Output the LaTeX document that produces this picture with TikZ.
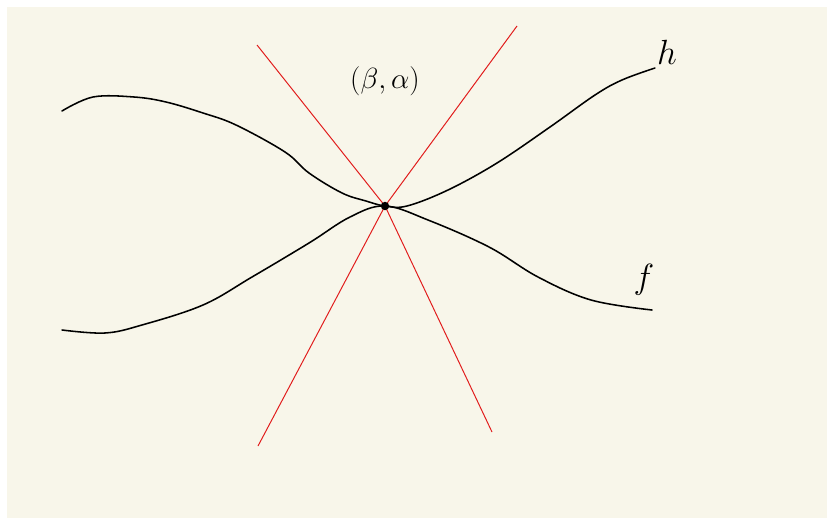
\documentclass[tikz,border=0pt]{standalone}
\usepackage{tikz}
\usetikzlibrary{positioning}
\definecolor{fondoCrema}{RGB}{248,246,234}
\definecolor{rojoVivo}{RGB}{225,28,28}

\begin{document}
\begin{tikzpicture}[x=0.025cm, y=-0.025cm, thick]
        % Fondo
        \useasboundingbox (0,0) rectangle (827,518);
        \fill[fondoCrema] (7,7) rectangle (827,518);

        % Punto de corte
        \coordinate (p) at (385,206);

        % Curva h
        \draw[line width=1.1pt, line cap=round] plot[smooth, tension=0.6] coordinates {
            (62,111) (93,97) (134,97) (166,102) (203,113) (236,125)
            (285,152) (309,173) (342,193) (366,201) (p) (407,206) (448,190)
            (497,163) (550,127) (595,95) (622,80) (655,68)};

        % Curva f
        \draw[line width=1.1pt, line cap=round] plot[smooth, tension=0.6] coordinates {
            (62,330) (105,333) (142,325) (203,305) (252,277) (309,243) (350,217)
            (p) (428,220) (489,247) (538,277) (591,300) (652,310)};

        % Rectas (rojas)
        \foreach \x/\y in {257/45, 517/26, 258/446, 492/432} {
            \draw[rojoVivo, line width=0.7pt] (p) -- (\x,\y);
        }

        % Punto y etiquetas
        \node[circle, fill=black, inner sep=0pt, minimum size=6pt] (punto) at (p) {};
        \node (etiqPunto) at (385,81) {\huge $(\beta,\alpha)$};
        \node (etiqH) at (667,52) {\Huge $h$};
        \node (etiqF) at (644,280) {\Huge $f$};
    \end{tikzpicture}
\end{document}
